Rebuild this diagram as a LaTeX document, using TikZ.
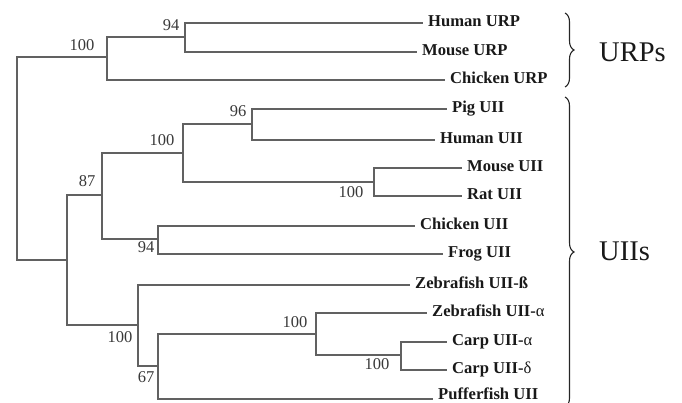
\documentclass[tikz,border=0pt]{standalone}
\usepackage{fontspec}
\setmainfont{Liberation Serif}
\usetikzlibrary{decorations.pathreplacing}
\begin{document}
\begin{tikzpicture}[x=1pt,y=-1pt,
  branch/.style={draw=black!62, line width=1.3pt},
  leaf/.style={anchor=west, inner sep=0pt, xshift=5pt,
    font=\fontsize{16.6}{18}\selectfont\bfseries, text=black!90,
    text height=0.66em, text depth=0pt},
  boot/.style={inner sep=0pt, font=\fontsize{16.5}{18}\selectfont,
    text=black!78, text height=0.68em, text depth=0pt},
  group/.style={anchor=base west, inner sep=0pt,
    font=\fontsize{28.5}{30}\selectfont, text=black!90},
  bracket/.style={draw=black!85, line width=1.1pt, decorate,
    decoration={brace, amplitude=9pt}}
]
\useasboundingbox (0,0) rectangle (682,403);

% internal nodes (x of the vertical bar, y of the joining branch)
\coordinate (root)  at (17,158);
\coordinate (nURP)  at (107,57);
\coordinate (nHM)   at (185,37);
\coordinate (nUII)  at (67,260);
\coordinate (nMam)  at (102,195);
\coordinate (nM1)   at (183,153);
\coordinate (nPH)   at (252,124);
\coordinate (nMR)   at (374,182);
\coordinate (nCF)   at (158,239);
\coordinate (nFish) at (138,325);
\coordinate (nF2)   at (158,366);
\coordinate (nZC)   at (316,334);
\coordinate (nCarp) at (401,355);

% branch tips
\coordinate (tHurp) at (423,23);
\coordinate (tMurp) at (417,52);
\coordinate (tCurp) at (445,80);
\coordinate (tPig)  at (447,109);
\coordinate (tHuii) at (435,140);
\coordinate (tMuii) at (462,168);
\coordinate (tRat)  at (462,196);
\coordinate (tCuii) at (415,226);
\coordinate (tFrog) at (443,254);
\coordinate (tZb)   at (410,285);
\coordinate (tZa)   at (427,313);
\coordinate (tCa)   at (447,342);
\coordinate (tCd)   at (447,370);
\coordinate (tPuf)  at (433,399);

% branches
\draw[branch] (root) |- (nURP);
\draw[branch] (root) |- (nUII);
\draw[branch] (nURP) |- (nHM);
\draw[branch] (nURP) |- (tCurp);
\draw[branch] (nHM) |- (tHurp);
\draw[branch] (nHM) |- (tMurp);
\draw[branch] (nUII) |- (nMam);
\draw[branch] (nUII) |- (nFish);
\draw[branch] (nMam) |- (nM1);
\draw[branch] (nMam) |- (nCF);
\draw[branch] (nM1) |- (nPH);
\draw[branch] (nM1) |- (nMR);
\draw[branch] (nPH) |- (tPig);
\draw[branch] (nPH) |- (tHuii);
\draw[branch] (nMR) |- (tMuii);
\draw[branch] (nMR) |- (tRat);
\draw[branch] (nCF) |- (tCuii);
\draw[branch] (nCF) |- (tFrog);
\draw[branch] (nFish) |- (tZb);
\draw[branch] (nFish) |- (nF2);
\draw[branch] (nF2) |- (nZC);
\draw[branch] (nF2) |- (tPuf);
\draw[branch] (nZC) |- (tZa);
\draw[branch] (nZC) |- (nCarp);
\draw[branch] (nCarp) |- (tCa);
\draw[branch] (nCarp) |- (tCd);

% sequence names
\node[leaf] (lHurp) at (tHurp) {Human URP};
\node[leaf] (lMurp) at (tMurp) {Mouse URP};
\node[leaf] (lCurp) at (tCurp) {Chicken URP};
\node[leaf] (lPig)  at (tPig)  {Pig UII};
\node[leaf] (lHuii) at (tHuii) {Human UII};
\node[leaf] (lMuii) at (tMuii) {Mouse UII};
\node[leaf] (lRat)  at (tRat)  {Rat UII};
\node[leaf] (lCuii) at (tCuii) {Chicken UII};
\node[leaf] (lFrog) at (tFrog) {Frog UII};
\node[leaf] (lZb)   at (tZb)   {Zebrafish UII-ß};
\node[leaf] (lZa)   at (tZa)   {Zebrafish UII-{\mdseries α}};
\node[leaf] (lCa)   at (tCa)   {Carp UII-{\mdseries α}};
\node[leaf] (lCd)   at (tCd)   {Carp UII-{\mdseries δ}};
\node[leaf, yshift=2.5pt] (lPuf) at (tPuf) {Pufferfish UII};

% bootstrap values
\node[boot] (bHM)   at (171,27.5) {94};
\node[boot] (bURP)  at (82,47.5)  {100};
\node[boot] (bPH)   at (238,113)  {96};
\node[boot] (bM1)   at (162,142)  {100};
\node[boot] (bMam)  at (87,183.5) {87};
\node[boot] (bCF)   at (146,249)  {94};
\node[boot] (bMR)   at (351,194)  {100};
\node[boot] (bFish) at (120,339)  {100};
\node[boot] (bF2)   at (146,379)  {67};
\node[boot] (bZC)   at (295,324)  {100};
\node[boot] (bCarp) at (377,366)  {100};

% group braces and names
\begin{scope}
  \clip (0,0) rectangle (682,403);
  \draw[bracket] (565,13) -- (565,87);
  \draw[bracket] (565,97) -- (565,407);
\end{scope}
\node[group] (gURP) at (599,62)  {URPs};
\node[group] (gUII) at (599,260) {UIIs};
\end{tikzpicture}
\end{document}
